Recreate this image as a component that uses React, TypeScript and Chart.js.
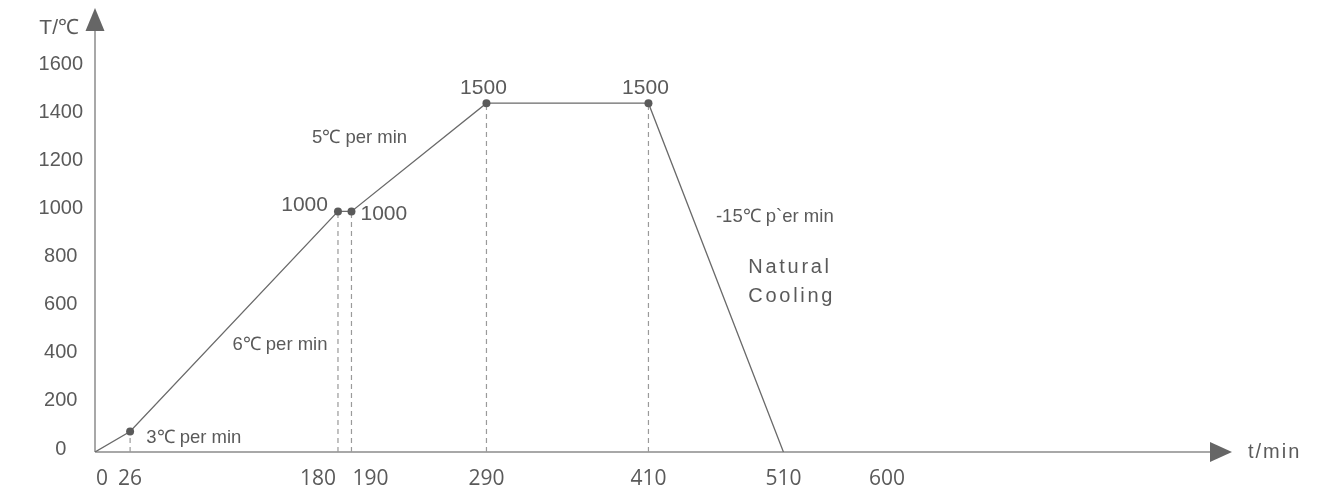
import React, { useEffect, useRef } from "react";
import { Chart, registerables } from "chart.js";

Chart.register(...registerables);

// ---- data ----
const timeMin = [0, 26, 180, 190, 290, 410, 510];
const tempC = [0, 85, 1000, 1000, 1450, 1450, 0];
const markerRadius = [0, 4, 4, 4, 4, 4, 0];
const droppedIndexes = [1, 2, 3, 4, 5];
const xTickValues = [0, 26, 180, 190, 290, 410, 510, 600];
const xTickNudge = [7, 0, -20, 19, 0, 0, 0, -18];
const yTickValues = [0, 200, 400, 600, 800, 1000, 1200, 1400, 1600];
const xAxisTitle = "t/min";
const yAxisTitle = "T/℃";

// labels attached to the points: [point index, text, side]
const pointLabelIdx = [2, 3, 4, 5];
const pointLabelText = ["1000", "1000", "1500", "1500"];
const pointLabelSide = ["left", "right", "top", "top"];

// free notes anchored in data units
const noteTexts = ["3℃ per min", "6℃ per min", "5℃ per min", "-15℃ p`er min"];
const noteX = [38, 137, 196, 460];
const noteY = [58, 445, 1305, 978];
const noteAlign = ["left", "center", "center", "left"];
const coolingLines = ["Natural", "Cooling"];
const coolingX = 484;
const coolingY = [769, 645];

const TEXT = "#5a5a5a";
const SANS = '"Liberation Sans", Arial, sans-serif';
const OPEN = '"Open Sans", "Noto Sans", sans-serif';

const decor = {
  id: "decor",
  beforeDatasetsDraw(chart: any) {
    const { ctx, chartArea } = chart;
    const { left, right, top, bottom } = chartArea;
    ctx.save();
    ctx.strokeStyle = "#8c8c8c";
    ctx.lineWidth = 1.5;
    ctx.beginPath();
    ctx.moveTo(left, bottom);
    ctx.lineTo(right, bottom);
    ctx.moveTo(left, bottom);
    ctx.lineTo(left, top);
    ctx.stroke();
    ctx.fillStyle = "#666666";
    // y arrow
    ctx.beginPath();
    ctx.moveTo(left, top - 23);
    ctx.lineTo(left - 9.5, top);
    ctx.lineTo(left + 9.5, top);
    ctx.closePath();
    ctx.fill();
    // x arrow
    ctx.beginPath();
    ctx.moveTo(right + 22, bottom);
    ctx.lineTo(right, bottom - 10);
    ctx.lineTo(right, bottom + 10);
    ctx.closePath();
    ctx.fill();
    ctx.restore();
  },
  afterDraw(chart: any) {
    const { ctx, chartArea, scales } = chart;
    const xs = scales.x;
    const ys = scales.y;
    ctx.save();
    ctx.fillStyle = TEXT;
    ctx.textBaseline = "middle";

    // x tick labels (nudged apart where crowded, as in the source figure)
    ctx.font = `21px ${OPEN}`;
    ctx.textAlign = "center";
    xTickValues.forEach((v, i) => {
      ctx.fillText(String(v), xs.getPixelForValue(v) + xTickNudge[i], chartArea.bottom + 27);
    });

    // axis titles
    ctx.font = `21px ${SANS}`;
    ctx.textAlign = "right";
    ctx.fillText(yAxisTitle, chartArea.left - 16, chartArea.top - 3);
    ctx.font = `20px ${SANS}`;
    ctx.textAlign = "left";
    (ctx as any).letterSpacing = "2px";
    ctx.fillText(xAxisTitle, chartArea.right + 38, chartArea.bottom);
    (ctx as any).letterSpacing = "0px";

    // point labels
    ctx.font = `21px ${SANS}`;
    pointLabelIdx.forEach((idx, i) => {
      const px = xs.getPixelForValue(timeMin[idx]);
      const py = ys.getPixelForValue(tempC[idx]);
      const side = pointLabelSide[i];
      if (side === "left") {
        ctx.textAlign = "right";
        ctx.fillText(pointLabelText[i], px - 10, py - 6);
      } else if (side === "right") {
        ctx.textAlign = "left";
        ctx.fillText(pointLabelText[i], px + 9, py + 3);
      } else {
        ctx.textAlign = "center";
        ctx.fillText(pointLabelText[i], px - 3, py - 15);
      }
    });

    // notes
    ctx.font = `18.5px ${SANS}`;
    noteTexts.forEach((t, i) => {
      ctx.textAlign = noteAlign[i] as CanvasTextAlign;
      ctx.fillText(t, xs.getPixelForValue(noteX[i]), ys.getPixelForValue(noteY[i]));
    });

    ctx.font = `20px ${SANS}`;
    ctx.textAlign = "left";
    (ctx as any).letterSpacing = "2.7px";
    coolingLines.forEach((t, i) => {
      ctx.fillText(t, xs.getPixelForValue(coolingX), ys.getPixelForValue(coolingY[i]));
    });
    (ctx as any).letterSpacing = "0px";
    ctx.restore();
  },
};

export default function App() {
  const ref = useRef<HTMLCanvasElement | null>(null);

  useEffect(() => {
    if (!ref.current) return;
    const mainPoints = timeMin.map((t, i) => ({ x: t, y: tempC[i] }));
    const dropSets = droppedIndexes.map((idx) => ({
      data: [
        { x: timeMin[idx], y: 0 },
        { x: timeMin[idx], y: tempC[idx] },
      ],
      borderColor: "#9a9a9a",
      borderWidth: 1.2,
      borderDash: [5, 4],
      pointRadius: 0,
      order: 2,
    }));
    const chart = new Chart(ref.current, {
      type: "line",
      data: {
        datasets: [
          {
            data: mainPoints,
            borderColor: "#6a6a6a",
            borderWidth: 1.3,
            pointRadius: markerRadius,
            pointBackgroundColor: "#5a5a5a",
            pointBorderColor: "#5a5a5a",
            pointBorderWidth: 0,
            tension: 0,
            order: 1,
          },
          ...dropSets,
        ] as any,
      },
      options: {
        animation: false,
        responsive: true,
        maintainAspectRatio: false,
        layout: { padding: { top: 31, right: 131, bottom: 0, left: 0 } },
        plugins: { legend: { display: false }, tooltip: { enabled: false } },
        scales: {
          x: {
            type: "linear",
            min: 0,
            max: 826,
            grid: { display: false, drawTicks: false },
            border: { display: false },
            afterBuildTicks: (s: any) => {
              s.ticks = xTickValues.map((v) => ({ value: v }));
            },
            afterFit: (s: any) => {
              s.height = 42;
            },
            ticks: { display: false, autoSkip: false, maxRotation: 0 },
          },
          y: {
            type: "linear",
            min: 0,
            max: 1750,
            grid: { display: false, drawTicks: false },
            border: { display: false },
            afterBuildTicks: (s: any) => {
              s.ticks = yTickValues.map((v) => ({ value: v }));
            },
            afterFit: (s: any) => {
              s.width = 95;
            },
            ticks: {
              padding: 12,
              crossAlign: "center",
              labelOffset: -3,
              color: TEXT,
              font: { family: SANS, size: 20 },
              callback: (v: any) => String(v),
            },
          },
        },
      },
      plugins: [decor],
    });
    return () => chart.destroy();
  }, []);

  return (
    <div style={{ position: "fixed", left: 0, top: 0, width: "100vw", height: "100vh", background: "#fff" }}>
      <canvas ref={ref} />
    </div>
  );
}
